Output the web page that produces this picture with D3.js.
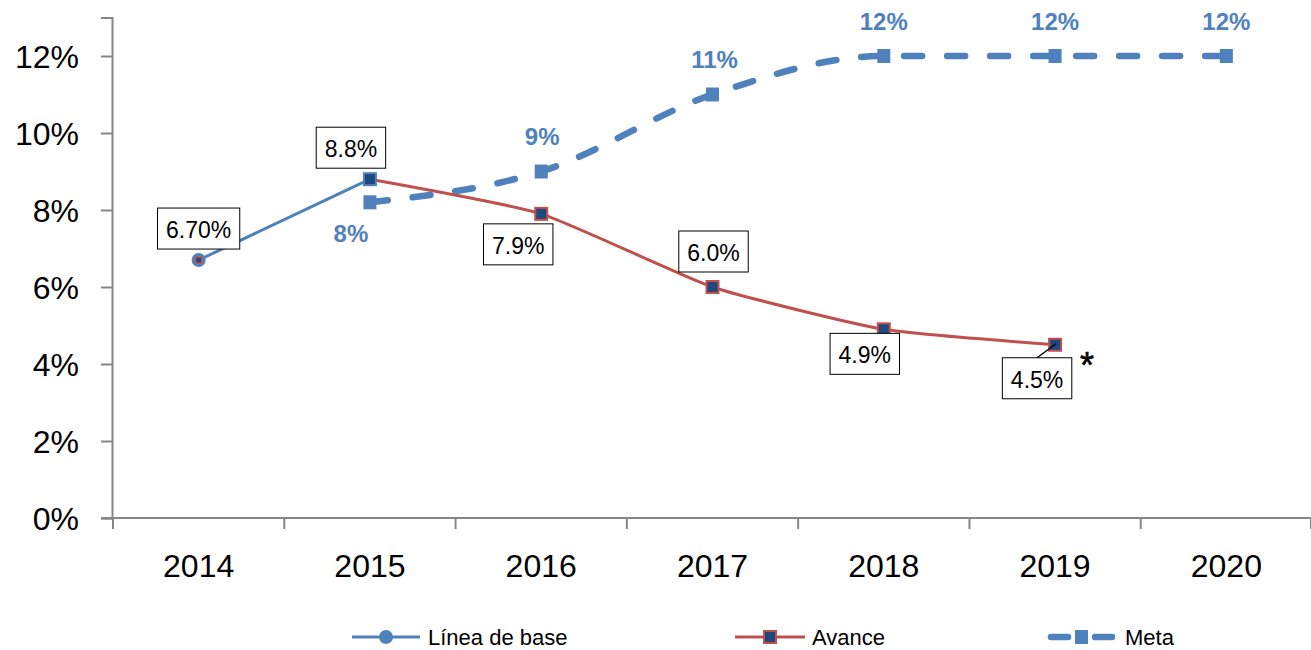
<!DOCTYPE html>
<html>
<head>
<meta charset="utf-8">
<script src="https://cdn.jsdelivr.net/npm/d3@7"></script>
<style>
  html, body { margin: 0; padding: 0; background: #fff; }
  svg { display: block; font-family: "Liberation Sans", Arial, sans-serif; }
</style>
</head>
<body>
<svg id="chart" width="1311" height="650"></svg>
<script>
// ---- data ----
const years = ["2014", "2015", "2016", "2017", "2018", "2019", "2020"];
const baseYears = ["2014", "2015"];
const baseValues = [0.067, 0.088];
const baseLabels = ["6.70%", "8.8%"];
const avanceYears = ["2015", "2016", "2017", "2018", "2019"];
const avanceValues = [0.088, 0.079, 0.060, 0.049, 0.045];
const avanceLabels = ["8.8%", "7.9%", "6.0%", "4.9%", "4.5%"];
const metaYears = ["2015", "2016", "2017", "2018", "2019", "2020"];
const metaValues = [0.082, 0.09, 0.11, 0.12, 0.12, 0.12];
const metaLabels = ["8%", "9%", "11%", "12%", "12%", "12%"];
const yTicks = [0, 0.02, 0.04, 0.06, 0.08, 0.10, 0.12];
const legendNames = ["Línea de base", "Avance", "Meta"];

// ---- layout ----
const BLUE = "#4F81BD", RED = "#C0504D", NAVY = "#1F497D", AXIS = "#868686";
const svg = d3.select("#chart");
const x = d3.scaleBand().domain(years).range([113, 1312]).padding(0);
const cx = d => x(d) + x.bandwidth() / 2;
const y = d3.scaleLinear().domain([0, 0.13]).range([518, 17.5]);

// axes
const yAxis = d3.axisLeft(y).tickValues(yTicks).tickSize(11).tickPadding(22)
  .tickFormat(d3.format(".0%"));
const gy = svg.append("g").attr("transform", "translate(112,0)").call(yAxis);
gy.select(".domain").attr("stroke", AXIS).attr("stroke-width", 2);
gy.selectAll(".tick line").attr("stroke", AXIS).attr("stroke-width", 2);
gy.selectAll(".tick text").attr("font-size", 32).attr("fill", "#000")
  .attr("font-family", "Liberation Sans, Arial, sans-serif").attr("dy", "0.36em");

const xAxis = d3.axisBottom(x).tickSize(0).tickPadding(0);
const gx = svg.append("g").attr("transform", "translate(0,518)").call(xAxis);
gx.select(".domain").remove();
gx.append("line").attr("x1", 101).attr("x2", 1311).attr("stroke", AXIS).attr("stroke-width", 2);
gx.selectAll(".tick text").attr("font-size", 32).attr("fill", "#000")
  .attr("font-family", "Liberation Sans, Arial, sans-serif").attr("dy", null).attr("y", 59);
// boundary ticks
gx.selectAll(".bt").data(years.concat(["__end"])).enter().append("line")
  .attr("x1", d => d === "__end" ? x.range()[1] - 1 : x(d))
  .attr("x2", d => d === "__end" ? x.range()[1] - 1 : x(d))
  .attr("y1", 0).attr("y2", 11).attr("stroke", AXIS).attr("stroke-width", 2);

// Meta line
const metaPts = metaYears.map((d, i) => [cx(d), y(metaValues[i])]);
svg.append("path").attr("d", d3.line().curve(d3.curveMonotoneX)(metaPts))
  .attr("fill", "none").attr("stroke", BLUE).attr("stroke-width", 6.5)
  .attr("stroke-linecap", "round").attr("stroke-dasharray", "18,25");
svg.selectAll(".metaM").data(metaPts).enter().append("rect")
  .attr("x", d => d[0] - 6.5).attr("y", d => d[1] - 7).attr("width", 13).attr("height", 14)
  .attr("fill", BLUE);

// Base line
const basePts = baseYears.map((d, i) => [cx(d), y(baseValues[i])]);
svg.append("path").attr("d", d3.line()(basePts))
  .attr("fill", "none").attr("stroke", BLUE).attr("stroke-width", 3);

// Avance line
const avPts = avanceYears.map((d, i) => [cx(d), y(avanceValues[i])]);
svg.append("path").attr("d", d3.line().curve(d3.curveCardinal.tension(0.5))(avPts))
  .attr("fill", "none").attr("stroke", RED).attr("stroke-width", 3);

// markers
svg.selectAll(".avM").data(avPts).enter().append("rect")
  .attr("x", d => d[0] - 6).attr("y", d => d[1] - 6).attr("width", 12).attr("height", 12)
  .attr("fill", NAVY).attr("stroke", (d, i) => i === 0 ? BLUE : RED).attr("stroke-width", 2);
svg.append("circle").attr("cx", basePts[0][0]).attr("cy", basePts[0][1]).attr("r", 7).attr("fill", BLUE);
svg.append("rect").attr("x", basePts[0][0] - 3).attr("y", basePts[0][1] - 3)
  .attr("width", 6).attr("height", 6).attr("fill", NAVY).attr("stroke", RED).attr("stroke-width", 1.5);

// data label boxes
const boxes = [
  { text: baseLabels[0], px: basePts[0][0], py: basePts[0][1], dx: 0, top: -52 },
  { text: avanceLabels[0], px: avPts[0][0], py: avPts[0][1], dx: -19, top: -52 },
  { text: avanceLabels[1], px: avPts[1][0], py: avPts[1][1], dx: -23, top: 10 },
  { text: avanceLabels[2], px: avPts[2][0], py: avPts[2][1], dx: 1, top: -56 },
  { text: avanceLabels[3], px: avPts[3][0], py: avPts[3][1], dx: -19, top: 4 },
  { text: avanceLabels[4], px: avPts[4][0], py: avPts[4][1], dx: -18, top: 13, leader: true }
];
boxes.forEach(b => {
  const g = svg.append("g");
  const t = g.append("text").attr("x", b.px + b.dx).attr("y", b.py + b.top + 30)
    .attr("text-anchor", "middle").attr("font-size", 23).attr("fill", "#000").text(b.text);
  const w = t.node().getComputedTextLength() + 17;
  g.insert("rect", "text").attr("x", b.px + b.dx - w / 2).attr("y", b.py + b.top)
    .attr("width", w).attr("height", 41).attr("fill", "#fff").attr("stroke", "#000").attr("stroke-width", 1);
  if (b.leader) {
    svg.append("line").attr("x1", b.px + b.dx).attr("y1", b.py + b.top)
      .attr("x2", b.px + 1).attr("y2", b.py - 1).attr("stroke", "#000").attr("stroke-width", 1.5);
  }
});
// asterisk
svg.append("text").attr("x", avPts[4][0] + 32).attr("y", avPts[4][1] + 33)
  .attr("text-anchor", "middle").attr("font-size", 36).attr("fill", "#000").attr("stroke", "#000").attr("stroke-width", 0.6).text("*");

// Meta labels
const metaOff = [[-19, 40], [1, -26.5], [2, -26.5], [0, -26], [0, -26], [0, -26]];
svg.selectAll(".metaL").data(metaPts).enter().append("text")
  .attr("x", (d, i) => d[0] + metaOff[i][0]).attr("y", (d, i) => d[1] + metaOff[i][1])
  .attr("text-anchor", "middle").attr("font-size", 24).attr("font-weight", "bold")
  .attr("fill", BLUE).text((d, i) => metaLabels[i]);

// Legend
const leg = [
  { x1: 352, x2: 420, tx: 428 },
  { x1: 735, x2: 805, tx: 812 },
  { x1: 1048, x2: 1115, tx: 1125 }
];
const ly = 637;
leg.forEach((l, i) => {
  const mx = (l.x1 + l.x2) / 2;
  if (i === 0) {
    svg.append("line").attr("x1", l.x1).attr("x2", l.x2).attr("y1", ly).attr("y2", ly).attr("stroke", BLUE).attr("stroke-width", 3);
    svg.append("circle").attr("cx", mx).attr("cy", ly).attr("r", 7).attr("fill", BLUE);
  } else if (i === 1) {
    svg.append("line").attr("x1", l.x1).attr("x2", l.x2).attr("y1", ly).attr("y2", ly).attr("stroke", RED).attr("stroke-width", 3);
    svg.append("rect").attr("x", mx - 6).attr("y", ly - 6).attr("width", 12).attr("height", 12)
      .attr("fill", NAVY).attr("stroke", RED).attr("stroke-width", 2);
  } else {
    svg.append("line").attr("x1", l.x1 + 3).attr("x2", l.x1 + 20).attr("y1", ly).attr("y2", ly).attr("stroke", BLUE)
      .attr("stroke-width", 6.5).attr("stroke-linecap", "round");
    svg.append("line").attr("x1", l.x2 - 20).attr("x2", l.x2 - 3).attr("y1", ly).attr("y2", ly).attr("stroke", BLUE)
      .attr("stroke-width", 6.5).attr("stroke-linecap", "round");
    svg.append("rect").attr("x", mx - 6.5).attr("y", ly - 7).attr("width", 13).attr("height", 14).attr("fill", BLUE);
  }
  svg.append("text").attr("x", l.tx).attr("y", ly + 8).attr("font-size", 22).attr("fill", "#000").text(legendNames[i]);
});
</script>
</body>
</html>
